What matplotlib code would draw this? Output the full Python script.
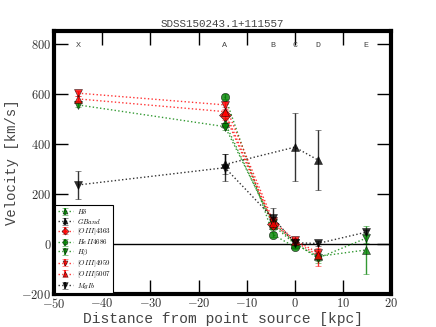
import matplotlib
matplotlib.use("Agg")
import matplotlib.pyplot as plt
import numpy as np

plt.rcParams['mathtext.fontset'] = 'cm'

title = "SDSS150243.1+111557"
region_names = ["X", "A", "B", "C", "D", "E"]
region_pos = [-45, -14.5, -4.5, 0, 4.8, 14.8]

# series: label, color, marker, x positions, values, errors
hd_x = [-14.5, -4.5, 0, 4.8, 14.8]
hd_v = [484, 75, 0, -50, -24]
hd_e = [20, 20, 15, 20, 95]

gb_x = [-14.5, 0, 4.8]
gb_v = [318, 387, 336]
gb_e = [40, 135, 120]

o4363_x = [-14.5, -4.5]
o4363_v = [516, 78]
o4363_e = [20, 20]

he2_x = [-14.5, -4.5, 0]
he2_v = [589, 37, -12]
he2_e = [10, 10, 10]

hb_x = [-45, -14.5, -4.5, 0, 4.8, 14.8]
hb_v = [556, 469, 85, 5, -57, 23]
hb_e = [10, 15, 15, 10, 20, 20]

o4959_x = [-45, -14.5, -4.5, 0, 4.8]
o4959_v = [603, 556, 92, 15, -35]
o4959_e = [10, 10, 15, 10, 20]

o5007_x = [-45, -14.5, -4.5, 0, 4.8]
o5007_v = [580, 529, 82, 10, -45]
o5007_e = [10, 10, 15, 10, 45]

mg_x = [-45, -14.5, -4.5, 0, 4.8, 14.8]
mg_v = [236, 305, 103, 5, 2, 47]
mg_e = [55, 55, 40, 10, 10, 10]

series = [
    (r"$H\delta$", "green", "^", hd_x, hd_v, hd_e),
    (r"$GBand$", "black", "^", gb_x, gb_v, gb_e),
    (r"$[OIII]4363$", "red", "D", o4363_x, o4363_v, o4363_e),
    (r"$HeII4686$", "green", "o", he2_x, he2_v, he2_e),
    (r"$H\beta$", "green", "v", hb_x, hb_v, hb_e),
    (r"$[OIII]4959$", "red", "v", o4959_x, o4959_v, o4959_e),
    (r"$[OIII]5007$", "red", "^", o5007_x, o5007_v, o5007_e),
    (r"$MgIb$", "black", "v", mg_x, mg_v, mg_e),
]

fig = plt.figure(figsize=(4.36, 3.27), dpi=100)
ax = fig.add_axes([0.124, 0.101, 0.773, 0.803])

for lab, col, mk, xs, vs, es in series:
    ax.errorbar(xs, vs, yerr=es, color=col, marker=mk, ls=':', lw=1.0,
                markersize=6, markeredgecolor='black', markeredgewidth=0.4,
                ecolor=col, elinewidth=1.0, capsize=2, label=lab, alpha=0.8)

ax.axhline(0, color='black', lw=1.0)

for name, xp in zip(region_names, region_pos):
    ax.text(xp, 795, name, ha='center', va='center', fontsize=6,
            family='Liberation Mono', color='#444444')

ax.set_xlim(-50, 20)
ax.set_ylim(-200, 850)
ax.set_xticks([-50, -40, -30, -20, -10, 0, 10, 20])
ax.set_yticks([-200, 0, 200, 400, 600, 800])
ax.set_xticklabels([r"$%d$" % v for v in [-50, -40, -30, -20, -10, 0, 10, 20]])
ax.set_yticklabels([r"$%d$" % v for v in [-200, 0, 200, 400, 600, 800]])
ax.tick_params(direction='in', length=10, width=1, top=True, right=True,
               labelsize=9, labelcolor='#333333', pad=2)
for s in ax.spines.values():
    s.set_linewidth(3)

ax.set_xlabel("Distance from point source [kpc]", family='Liberation Mono',
              fontsize=10.5, color='#444444', labelpad=1)
ax.set_ylabel("Velocity [km/s]", family='Liberation Mono', fontsize=10,
              color='#444444', labelpad=2)
ax.set_title(title, family='Liberation Mono', fontsize=7.8, color='#444444', pad=3)

leg = ax.legend(loc='lower left', fontsize=5, numpoints=1, handlelength=2.2,
                borderaxespad=0.2, labelspacing=0.12, fancybox=False,
                markerscale=0.6, borderpad=0.3, handletextpad=0.6,
                edgecolor='black', framealpha=1)
leg.get_frame().set_linewidth(0.8)
for h in leg.legend_handles:
    try:
        h.set_linestyle('--')
    except Exception:
        pass

fig.savefig("out.png", dpi=100)
